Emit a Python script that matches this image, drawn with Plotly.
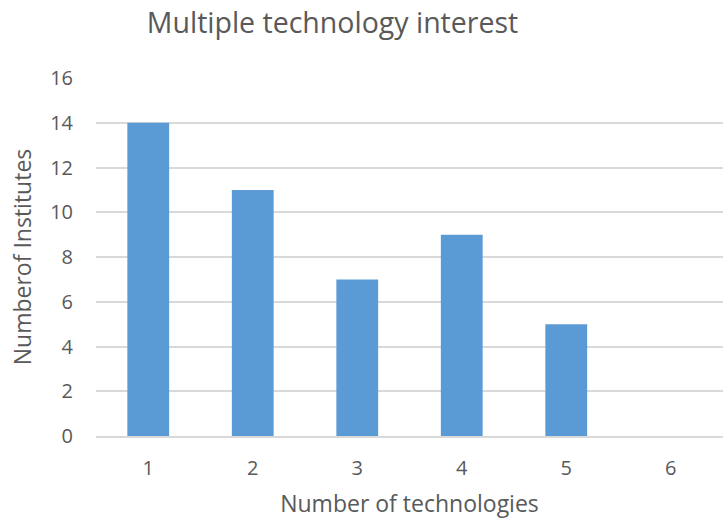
import plotly.graph_objects as go

# Number of technologies an institute is interested in, and how many institutes
technologies = [1, 2, 3, 4, 5, 6]
institutes = [14, 11, 7, 9, 5, 0]
y_ticks = [0, 2, 4, 6, 8, 10, 12, 14, 16]

TEXT = "#595959"
BAR = "#5B9BD5"
GRID = "#D9D9D9"
FONT = "Open Sans"

W, H = 723, 520
L, T, B = 96, 78, 84
R = 0

fig = go.Figure(
    go.Bar(
        x=technologies,
        y=institutes,
        marker=dict(color=BAR, line=dict(width=0)),
        hoverinfo="x+y",
    )
)

fig.update_layout(
    width=W,
    height=H,
    margin=dict(l=L, r=R, t=T, b=B),
    paper_bgcolor="white",
    plot_bgcolor="white",
    bargap=0.6,
    showlegend=False,
    font=dict(family=FONT, color=TEXT),
    title=dict(
        text="Multiple technology interest",
        font=dict(family=FONT, size=28.5, color=TEXT),
        xref="paper",
        x=(332.5 - L) / (W - L - R),
        xanchor="center",
        yref="container",
        y=1 - 23 / H,
        yanchor="middle",
    ),
    xaxis=dict(
        range=[0.5, 6.5],
        tickvals=technologies,
        ticktext=[str(t) for t in technologies],
        showgrid=False,
        zeroline=False,
        showline=True,
        linecolor=GRID,
        linewidth=2,
        ticks="",
        ticklabelstandoff=13,
        tickfont=dict(family=FONT, size=20, color=TEXT),
        title=dict(
            text="Number of technologies",
            font=dict(family=FONT, size=23, color=TEXT),
            standoff=16,
        ),
        fixedrange=True,
    ),
    yaxis=dict(
        range=[0, 16],
        tickvals=y_ticks,
        ticktext=[str(v) for v in y_ticks],
        showgrid=True,
        gridcolor=GRID,
        gridwidth=1.5,
        zeroline=False,
        showline=False,
        ticks="",
        ticklabelstandoff=22,
        tickfont=dict(family=FONT, size=20, color=TEXT),
        title=dict(
            text="Numberof Institutes",
            font=dict(family=FONT, size=23, color=TEXT),
            standoff=12,
        ),
        fixedrange=True,
    ),
)

fig.write_html("out.html", config={"displayModeBar": False})
